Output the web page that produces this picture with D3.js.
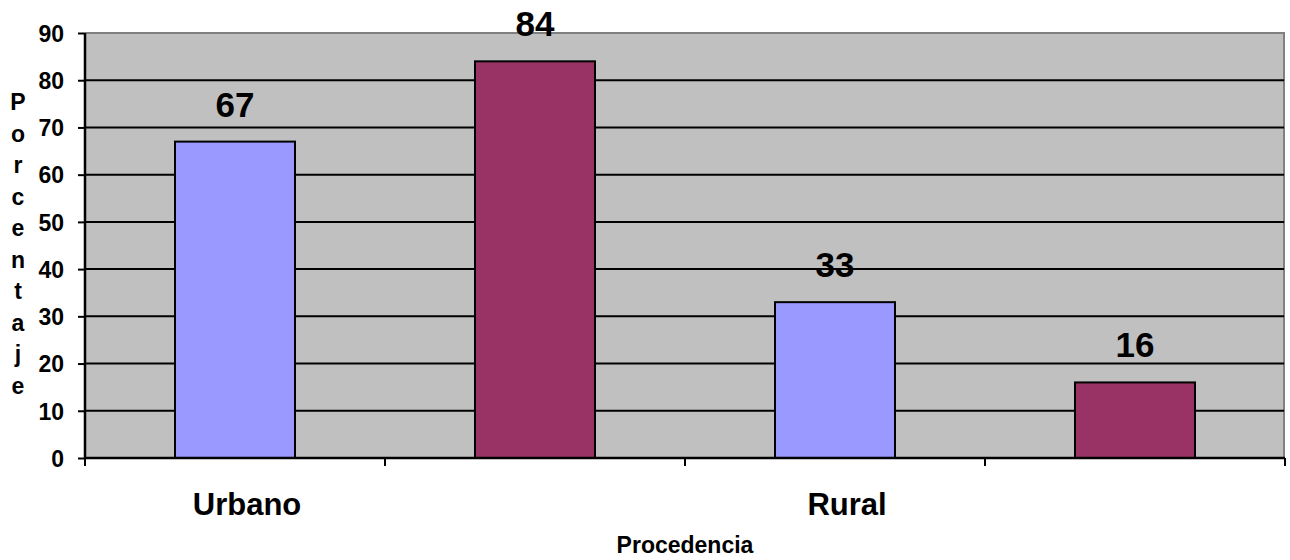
<!DOCTYPE html>
<html>
<head>
<meta charset="utf-8">
<script src="https://cdn.jsdelivr.net/npm/d3@7"></script>
<style>
  html, body { margin: 0; padding: 0; background: #ffffff; }
  svg { display: block; }
  text { font-family: "Liberation Sans", Arial, sans-serif; font-weight: bold; fill: #000; }
</style>
</head>
<body>
<svg id="chart" width="1290" height="560"></svg>
<script>
// Procedencia groups and the two series shown in each
const groups = ["Urbano", "Rural"];
const seriesNames = ["Serie 1", "Serie 2"];
const serie1 = [67, 33];
const serie2 = [84, 16];
const yTicks = [0, 10, 20, 30, 40, 50, 60, 70, 80, 90];
const yTitle = "Porcentaje";
const xTitle = "Procedencia";
const colors = ["#9999FF", "#993366"];

const svg = d3.select("#chart");
const plot = { left: 85, right: 1284, top: 33, bottom: 458 };

const x0 = d3.scaleBand().domain(groups).range([plot.left, plot.left + 1200]).padding(0);
const x1 = d3.scaleBand().domain(seriesNames).range([0, x0.bandwidth()])
  .paddingInner(0.6).paddingOuter(0.3);
const y = d3.scaleLinear().domain([0, 90]).range([plot.bottom, plot.top]);

const rows = groups.map((g, i) => ({ group: g, values: [serie1[i], serie2[i]] }));

// plot background
svg.append("rect")
  .attr("x", plot.left).attr("y", plot.top)
  .attr("width", plot.right - plot.left).attr("height", plot.bottom - plot.top)
  .attr("fill", "#C0C0C0");

// top and right border of the plot area
svg.append("path")
  .attr("d", `M${plot.left},${plot.top}H${plot.right}V${plot.bottom}`)
  .attr("fill", "none").attr("stroke", "#808080").attr("stroke-width", 2);

// horizontal gridlines
svg.append("g").selectAll("line")
  .data(yTicks.filter(t => t > 0 && t < 90))
  .join("line")
  .attr("x1", plot.left).attr("x2", plot.right)
  .attr("y1", d => y(d)).attr("y2", d => y(d))
  .attr("stroke", "#000").attr("stroke-width", 2);

// bars
const gBars = svg.append("g").selectAll("g").data(rows).join("g")
  .attr("transform", d => `translate(${x0(d.group)},0)`);
gBars.selectAll("rect")
  .data(d => d.values.map((v, k) => ({ key: seriesNames[k], v, k })))
  .join("rect")
  .attr("x", d => x1(d.key))
  .attr("y", d => y(d.v))
  .attr("width", x1.bandwidth())
  .attr("height", d => y(0) - y(d.v))
  .attr("fill", d => colors[d.k])
  .attr("stroke", "#000").attr("stroke-width", 2);

// value labels
gBars.selectAll("text")
  .data(d => d.values.map((v, k) => ({ key: seriesNames[k], v, k })))
  .join("text")
  .attr("x", d => x1(d.key) + x1.bandwidth() / 2)
  .attr("y", d => y(d.v) - 25)
  .attr("text-anchor", "middle")
  .style("font-size", "35px")
  .text(d => d.v);

// y axis
const yAxis = d3.axisLeft(y).tickValues(yTicks).tickSize(7).tickPadding(14);
const gy = svg.append("g").attr("transform", `translate(${plot.left},0)`).call(yAxis);
gy.select(".domain").attr("stroke", "#000").attr("stroke-width", 2.5)
  .attr("d", `M0,${plot.top}V${plot.bottom}`);
gy.selectAll(".tick line").attr("stroke", "#000").attr("stroke-width", 2);
gy.selectAll(".tick text")
  .style("font-size", "23px").style("font-weight", "bold")
  .style("font-family", "'Liberation Sans', Arial, sans-serif")
  .attr("dy", "0.36em");

// x axis baseline and slot ticks
const slotEdges = [];
groups.forEach(g => {
  slotEdges.push(x0(g));
  slotEdges.push(x0(g) + x0.bandwidth() / 2);
});
slotEdges.push(x0(groups[groups.length - 1]) + x0.bandwidth());
svg.append("line")
  .attr("x1", plot.left).attr("x2", plot.left + 1200)
  .attr("y1", plot.bottom).attr("y2", plot.bottom)
  .attr("stroke", "#000").attr("stroke-width", 2.5);
svg.append("g").selectAll("line").data(slotEdges).join("line")
  .attr("x1", d => d).attr("x2", d => d)
  .attr("y1", plot.bottom).attr("y2", plot.bottom + 8)
  .attr("stroke", "#000").attr("stroke-width", 2);

// category labels
svg.append("g").selectAll("text").data(groups).join("text")
  .attr("x", g => x0(g) + x1(seriesNames[0]) + x1.bandwidth() / 2 + 12)
  .attr("y", 515)
  .attr("text-anchor", "middle")
  .style("font-size", "31px")
  .text(g => g);

// x axis title
svg.append("text")
  .attr("x", plot.left + 600).attr("y", 553)
  .attr("text-anchor", "middle")
  .style("font-size", "23px")
  .text(xTitle);

// y axis title, letters stacked vertically
svg.append("g").selectAll("text").data(yTitle.split("")).join("text")
  .attr("x", 18)
  .attr("y", (d, i) => 110 + i * 31.5)
  .attr("text-anchor", "middle")
  .style("font-size", "23px")
  .text(d => d);
</script>
</body>
</html>
